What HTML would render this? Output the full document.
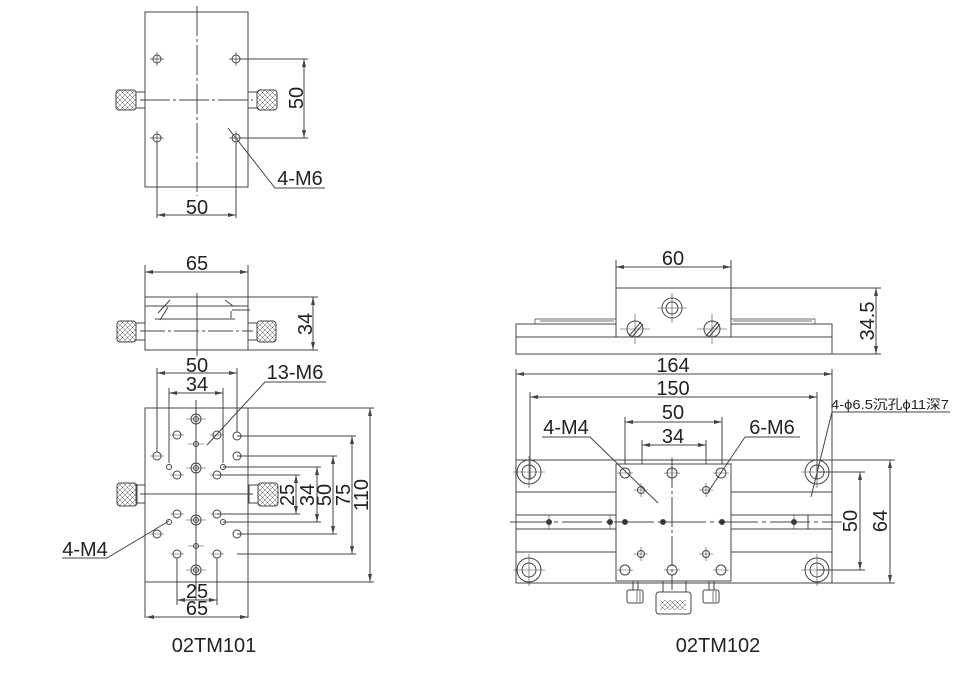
<!DOCTYPE html>
<html><head><meta charset="utf-8"><style>
html,body{margin:0;padding:0;background:#fff;}
svg{display:block}
text{font-family:"Liberation Sans","Noto Sans CJK SC",sans-serif;fill:#222}
</style></head><body>
<svg width="956" height="688" viewBox="0 0 956 688" xmlns="http://www.w3.org/2000/svg">
<defs>
<pattern id="kn" width="5" height="5" patternUnits="userSpaceOnUse">
<path d="M0 0L5 5M5 0L0 5" stroke="#555" stroke-width="0.5"/>
</pattern>
<marker id="a" viewBox="0 0 8 4" refX="8" refY="2" markerWidth="8" markerHeight="4" orient="auto-start-reverse"><path d="M0 0L8 2L0 4z" fill="#444"/></marker>
</defs>
<g fill="none" stroke="#444" stroke-width="1">
<rect x="145" y="12" width="103" height="175"/>
<line x1="197" y1="6" x2="197" y2="196" stroke-dasharray="30 3 3 3"/>
<line x1="140" y1="100" x2="253" y2="100" stroke-dasharray="30 3 3 3"/>
<rect x="136" y="92" width="9" height="16"/><rect x="248" y="92" width="9" height="16"/>
<rect x="116" y="90" width="20" height="20" rx="3" fill="url(#kn)"/>
<rect x="257" y="90" width="20" height="20" rx="3" fill="url(#kn)"/>
<circle cx="157" cy="59" r="4"/><circle cx="236" cy="59" r="4"/><circle cx="157" cy="138" r="4"/><circle cx="236" cy="138" r="4"/>
<path d="M150 59h14M157 52v14M229 59h14M236 52v14M150 138h14M157 131v14M229 138h14M236 131v14" stroke-width="0.7"/>
<path d="M240 59H308M240 138H308"/><line x1="304" y1="59" x2="304" y2="138" marker-start="url(#a)" marker-end="url(#a)"/>
<path d="M157 142V218M236 142V218"/><line x1="157" y1="215" x2="236" y2="215" marker-start="url(#a)" marker-end="url(#a)"/>
<path d="M228 128L275 188H325"/>
<path d="M145 265V297M248 265V297"/><line x1="145" y1="272" x2="248" y2="272" marker-start="url(#a)" marker-end="url(#a)"/>
<rect x="145" y="297" width="103" height="53"/>
<line x1="145" y1="306" x2="248" y2="306"/>
<line x1="197" y1="293" x2="197" y2="356"/>
<line x1="155" y1="319" x2="235" y2="319"/>
<line x1="140" y1="331" x2="253" y2="331" stroke-dasharray="25 3 3 3"/>
<path d="M158 313L170 300M160 320L168 307M225 300L233 306H245M232 310H250M231 318V311"/>
<rect x="136" y="323" width="9" height="17"/><rect x="248" y="323" width="9" height="17"/>
<rect x="117" y="321" width="19" height="21" rx="3" fill="url(#kn)"/>
<rect x="257" y="321" width="19" height="21" rx="3" fill="url(#kn)"/>
<path d="M248 297H318M248 350H318"/><line x1="313" y1="297" x2="313" y2="350" marker-start="url(#a)" marker-end="url(#a)"/>
<rect x="145" y="408" width="103" height="174"/>
<path d="M145 582V618M248 582V618"/>
<line x1="196" y1="400" x2="196" y2="600"/>
<line x1="140" y1="494" x2="253" y2="494"/>
<rect x="136" y="485" width="9" height="18"/><rect x="249" y="485" width="9" height="18"/>
<rect x="117" y="483" width="20" height="23" rx="3" fill="url(#kn)"/>
<rect x="258" y="483" width="20" height="23" rx="3" fill="url(#kn)"/>
<g>
<circle cx="196" cy="419" r="5"/><circle cx="196" cy="419" r="2.5"/>
<circle cx="196" cy="468" r="5"/><circle cx="196" cy="468" r="2.5"/>
<circle cx="196" cy="520" r="5"/><circle cx="196" cy="520" r="2.5"/>
<circle cx="196" cy="570" r="5"/><circle cx="196" cy="570" r="2.5"/>
<circle cx="177" cy="435" r="4"/><circle cx="217" cy="435" r="4"/><circle cx="237" cy="436" r="4"/><circle cx="157" cy="456" r="4"/><circle cx="237" cy="456" r="4"/>
<circle cx="177" cy="475" r="4"/><circle cx="217" cy="475" r="4"/><circle cx="177" cy="514" r="4"/><circle cx="217" cy="514" r="4"/>
<circle cx="157" cy="534" r="4"/><circle cx="237" cy="534" r="4"/><circle cx="177" cy="554" r="4"/><circle cx="217" cy="554" r="4"/>
<circle cx="196" cy="444" r="2.5"/><circle cx="169" cy="467" r="2.5"/><circle cx="223" cy="467" r="2.5"/><circle cx="169" cy="522" r="2.5"/><circle cx="223" cy="522" r="2.5"/><circle cx="196" cy="546" r="2.5"/>
</g>
<path d="M186 419h20M186 468h20M186 520h20M186 570h20M170 435h14M210 435h14M150 456h14M170 475h14M210 475h14M170 514h14M210 514h14M150 534h14M170 554h14M210 554h14M188 444h16M188 546h16" stroke-width="0.6"/>
<path d="M217 475H300M217 514H300M223 467H321M223 522H321M237 456H337M237 534H337M237 436H356M237 554H356M248 408H374M248 582H374"/>
<line x1="296" y1="475" x2="296" y2="514" marker-start="url(#a)" marker-end="url(#a)"/>
<line x1="317" y1="467" x2="317" y2="522" marker-start="url(#a)" marker-end="url(#a)"/>
<line x1="333" y1="456" x2="333" y2="534" marker-start="url(#a)" marker-end="url(#a)"/>
<line x1="352" y1="436" x2="352" y2="554" marker-start="url(#a)" marker-end="url(#a)"/>
<line x1="370" y1="408" x2="370" y2="582" marker-start="url(#a)" marker-end="url(#a)"/>
<path d="M157 368V452M237 368V432M169 388V463M223 388V463"/>
<line x1="157" y1="373" x2="237" y2="373" marker-start="url(#a)" marker-end="url(#a)"/>
<line x1="169" y1="393" x2="223" y2="393" marker-start="url(#a)" marker-end="url(#a)"/>
<path d="M207 445L265 382H326"/>
<path d="M62 558H107L169 521"/>
<path d="M177 558V605M217 558V605"/>
<line x1="177" y1="600" x2="217" y2="600" marker-start="url(#a)" marker-end="url(#a)"/>
<line x1="146" y1="617" x2="248" y2="617" marker-start="url(#a)" marker-end="url(#a)"/>
<path d="M616 260V288M731 260V288"/><line x1="616" y1="267" x2="731" y2="267" marker-start="url(#a)" marker-end="url(#a)"/>
<rect x="516" y="324" width="316" height="30"/>
<line x1="516" y1="337" x2="832" y2="337"/>
<rect x="616" y="288" width="115" height="49" fill="#fff"/>
<path d="M535 324V319H616M731 319H815V324M540 321H614M733 321H812" stroke-width="0.7"/>
<circle cx="672" cy="308" r="10"/><circle cx="672" cy="308" r="6"/>
<path d="M657 308h30M672 293v30M620 329h30M635 314v30M697 329h30M712 314v30" stroke-width="0.6"/>
<circle cx="635" cy="329" r="8"/><circle cx="712" cy="329" r="8"/>
<path d="M629 336L641 322M632 337L643 324M706 336L718 322M709 337L720 324"/>
<path d="M731 288H881M832 354H881"/><line x1="876" y1="288" x2="876" y2="354" marker-start="url(#a)" marker-end="url(#a)"/>
<path d="M516 369V460M832 369V460M530 392V480M817 392V480"/>
<line x1="516" y1="374" x2="832" y2="374" marker-start="url(#a)" marker-end="url(#a)"/>
<line x1="530" y1="397" x2="817" y2="397" marker-start="url(#a)" marker-end="url(#a)"/>
<path d="M625 417V468M722 417V468M642 440V486M706 440V486"/>
<line x1="625" y1="422" x2="722" y2="422" marker-start="url(#a)" marker-end="url(#a)"/>
<line x1="642" y1="445" x2="706" y2="445" marker-start="url(#a)" marker-end="url(#a)"/>
<rect x="516" y="460" width="316" height="123"/>
<path d="M516 492H832M516 515H832M516 529H832M516 552H832"/>
<line x1="808" y1="515" x2="808" y2="529"/>
<rect x="616" y="464" width="115" height="117" fill="#fff"/>
<line x1="672" y1="458" x2="672" y2="590" stroke-dasharray="30 3 3 3"/>
<line x1="510" y1="522" x2="842" y2="522" stroke-dasharray="40 4 4 4"/>
<g>
<circle cx="529" cy="472" r="12"/><circle cx="529" cy="472" r="7"/>
<circle cx="817" cy="472" r="12"/><circle cx="817" cy="472" r="7"/>
<circle cx="529" cy="570" r="12"/><circle cx="529" cy="570" r="7"/>
<circle cx="817" cy="570" r="12"/><circle cx="817" cy="570" r="7"/>
<circle cx="625" cy="473" r="5"/><circle cx="672" cy="473" r="5"/><circle cx="721" cy="473" r="5"/>
<circle cx="625" cy="570" r="5"/><circle cx="672" cy="570" r="5"/><circle cx="721" cy="570" r="5"/>
<circle cx="641" cy="490" r="3.5"/><circle cx="706" cy="490" r="3.5"/><circle cx="641" cy="554" r="3.5"/><circle cx="706" cy="554" r="3.5"/>
</g>
<g fill="#333"><circle cx="549" cy="522" r="2.5"/><circle cx="610" cy="522" r="2.5"/><circle cx="625" cy="522" r="2.5"/><circle cx="663" cy="522" r="2.5"/><circle cx="722" cy="522" r="2.5"/><circle cx="794" cy="522" r="2.5"/></g>
<path d="M513 472h32M529 456v32M801 472h32M817 456v32M513 570h32M529 554v32M801 570h32M817 554v32M617 473h16M664 473h16M713 473h16M617 570h16M664 570h16M713 570h16M634 490h14M641 483v14M699 490h14M706 483v14M634 554h14M641 547v14M699 554h14M706 547v14M549 515v14M610 515v14M794 515v14" stroke-width="0.6"/>
<path d="M590 437H542M590 437L658 503M745 437H800M745 437L708 492M832 412H950M832 412L811 497"/>
<path d="M817 472H865M817 570H865M832 460H895M832 583H895"/>
<line x1="860" y1="472" x2="860" y2="570" marker-start="url(#a)" marker-end="url(#a)"/>
<line x1="890" y1="460" x2="890" y2="583" marker-start="url(#a)" marker-end="url(#a)"/>
<rect x="633" y="581" width="5" height="9"/><rect x="709" y="581" width="5" height="9"/>
<rect x="627" y="590" width="16" height="13" rx="2"/><rect x="703" y="590" width="16" height="13" rx="2"/>
<path d="M637 591V602M640 591V602M713 591V602M716 591V602" stroke-width="0.7"/>
<rect x="663" y="581" width="23" height="11"/>
<rect x="656" y="592" width="35" height="22" rx="3"/>
<rect x="660" y="600" width="26" height="10" fill="url(#kn)" stroke="none"/>
</g>
<g font-size="20" text-anchor="middle">
<text x="197" y="214">50</text>
<text transform="translate(303,98) rotate(-90)">50</text>
<text x="300" y="185">4-M6</text>
<text x="197" y="270">65</text>
<text transform="translate(312,324) rotate(-90)">34</text>
<text x="197" y="372">50</text>
<text x="197" y="391">34</text>
<text x="295" y="379">13-M6</text>
<text x="85" y="556">4-M4</text>
<text transform="translate(294,495) rotate(-90)">25</text>
<text transform="translate(314,495) rotate(-90)">34</text>
<text transform="translate(331,495) rotate(-90)">50</text>
<text transform="translate(350,495) rotate(-90)">75</text>
<text transform="translate(368,495) rotate(-90)">110</text>
<text x="197" y="598">25</text>
<text x="197" y="615">65</text>
<text x="214" y="652">02TM101</text>
<text x="673" y="265">60</text>
<text transform="translate(874,321) rotate(-90)">34.5</text>
<text x="673" y="372">164</text>
<text x="673" y="395">150</text>
<text x="673" y="419">50</text>
<text x="673" y="443">34</text>
<text x="566" y="434">4-M4</text>
<text x="772" y="434">6-M6</text>
<text transform="translate(857,521) rotate(-90)">50</text>
<text transform="translate(887,521) rotate(-90)">64</text>
<text x="718" y="652">02TM102</text>
</g>
<text x="831" y="409" font-size="13" textLength="118" lengthAdjust="spacingAndGlyphs">4-ϕ6.5沉孔ϕ11深7</text>
</svg>
</body></html>
